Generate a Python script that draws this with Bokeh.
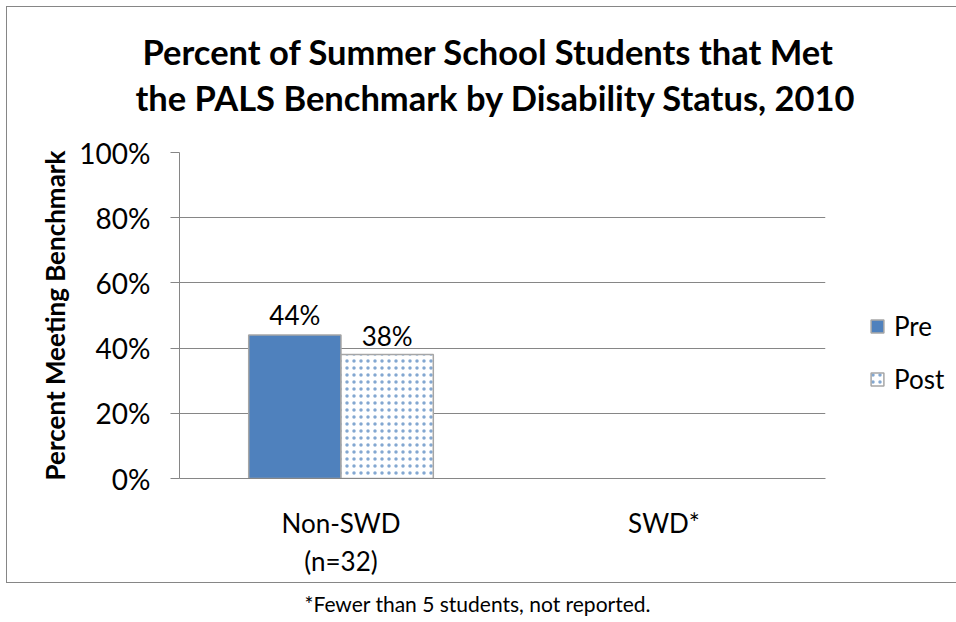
from bokeh.plotting import figure
from bokeh.models import (ColumnDataSource, Legend, LegendItem, Title, Div,
                          FactorRange, Range1d, NumeralTickFormatter, FixedTicker)
from bokeh.layouts import column
from bokeh.transform import dodge
from bokeh.core.properties import value
from bokeh.embed import file_html
from bokeh.resources import INLINE

# ---- data ----
categories = ["Non-SWD\n(n=32)", "SWD*"]
pre_values = [0.44, None]     # SWD* not reported
post_values = [0.38, None]
series_names = ["Pre", "Post"]
y_ticks = [0, 0.2, 0.4, 0.6, 0.8, 1.0]
title_lines = ["Percent of Summer School Students that Met",
               "the PALS Benchmark by Disability Status, 2010"]
y_label = "Percent Meeting Benchmark"
footnote = "*Fewer than 5 students, not reported."

FONT = "Lato"
BLUE = "#4F81BD"
GRAY = "#868686"
FS = "26px"

rows = [(c, a, b) for c, a, b in zip(categories, pre_values, post_values) if a is not None]
src = ColumnDataSource(dict(
    cat=[r[0] for r in rows],
    pre=[r[1] for r in rows],
    post=[r[2] for r in rows],
    pre_lbl=[f"{round(r[1]*100)}%" for r in rows],
    post_lbl=[f"{round(r[2]*100)}%" for r in rows],
))

p = figure(frame_width=644, frame_height=324, x_range=FactorRange(*categories),
           y_range=Range1d(0, 1), output_backend="svg", toolbar_location=None,
           min_border_left=172, min_border_right=129, min_border_top=145,
           min_border_bottom=106)
p.styles = {"border": "1.5px solid #868686"}
p.margin = (6, 0, 0, 6)

r_pre = p.vbar(x=dodge("cat", -0.1429, range=p.x_range), top="pre", width=0.2857,
               source=src, fill_color=BLUE, line_color="#A6A6A6", line_width=1.5)
r_post = p.vbar(x=dodge("cat", 0.1429, range=p.x_range), top="post", width=0.2857,
                source=src, fill_color="white", line_color="#A6A6A6", line_width=1.5,
                hatch_pattern="dot", hatch_color=BLUE, hatch_scale=7, hatch_weight=1.2,
                hatch_alpha=0.7)

p.text(x=dodge("cat", -0.1429, range=p.x_range), y="pre", text="pre_lbl", source=src,
       text_align="center", text_baseline="alphabetic", y_offset=-20,
       text_font=value(FONT), text_font_size=FS, text_color="black")
p.text(x=dodge("cat", 0.1429, range=p.x_range), y="post", text="post_lbl", source=src,
       text_align="center", text_baseline="alphabetic", y_offset=-19,
       text_font=value(FONT), text_font_size=FS, text_color="black")

# titles
p.add_layout(Title(text=title_lines[1], align="left", offset=-44, text_font=FONT,
                   text_font_size="34.5px", text_font_style="bold", text_color="black",
                   standoff=69), "above")
p.add_layout(Title(text=title_lines[0], align="left", offset=-37, text_font=FONT,
                   text_font_size="34.5px", text_font_style="bold", text_color="black",
                   standoff=-62), "above")

# axes
p.yaxis.ticker = FixedTicker(ticks=y_ticks)
p.yaxis.formatter = NumeralTickFormatter(format="0%")
p.yaxis.axis_label = y_label
p.yaxis.axis_label_text_font = FONT
p.yaxis.axis_label_text_font_size = "26px"
p.yaxis.axis_label_text_font_style = "bold"
p.yaxis.axis_label_text_color = "black"
p.yaxis.axis_label_standoff = 5
p.yaxis.major_label_text_font = FONT
p.yaxis.major_label_text_font_size = "28px"
p.yaxis.major_label_text_color = "black"
p.yaxis.major_label_standoff = 20
p.yaxis.axis_line_color = GRAY
p.yaxis.major_tick_line_color = GRAY
p.yaxis.major_tick_out = 9
p.yaxis.major_tick_in = 0
p.yaxis.minor_tick_line_color = None

p.xaxis.major_label_text_font = FONT
p.xaxis.major_label_text_font_size = FS
p.xaxis.major_label_text_color = "black"
p.xaxis.major_label_standoff = 22
p.xaxis.axis_line_color = GRAY
p.xaxis.major_tick_line_color = None
p.xaxis.minor_tick_line_color = None

p.xgrid.grid_line_color = None
p.ygrid.grid_line_color = GRAY
p.outline_line_color = None

legend = Legend(items=[LegendItem(label=series_names[0], renderers=[r_pre]),
                       LegendItem(label=series_names[1], renderers=[r_post])],
                location=(44, 83), padding=0, margin=0, spacing=21,
                glyph_width=16, glyph_height=16, label_standoff=9,
                label_text_font=FONT, label_text_font_size=FS, label_text_color="black",
                border_line_alpha=0, background_fill_alpha=0)
p.add_layout(legend, "right")

note = Div(text=footnote, width=945, height=30,
           styles={"text-align": "center", "font-family": FONT, "font-size": "21px",
                   "width": "945px", "margin-top": "6px", "color": "black"})

layout = column(p, note)
open("out.html", "w").write(file_html(layout, INLINE))
